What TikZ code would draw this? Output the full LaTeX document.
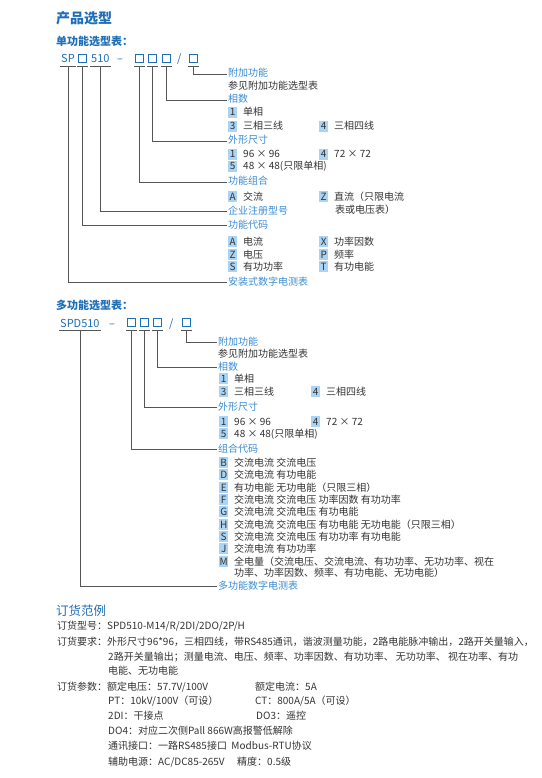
\documentclass[tikz,border=0pt]{standalone}
\usepackage{fontspec}
\setmainfont{Noto Sans CJK SC}
\usetikzlibrary{positioning}
\definecolor{ink}{HTML}{333333}
\definecolor{title}{HTML}{1E6EB8}
\definecolor{label}{HTML}{3A8BD2}
\definecolor{keyfill}{HTML}{A9D4F5}
\definecolor{wire}{HTML}{555555}
\newcommand{\keybox}[1]{{\setlength{\fboxsep}{0pt}\colorbox{keyfill}{\makebox[9pt]{\rule[-2pt]{0pt}{11pt}#1}}}\hspace{6pt}}
\newcommand{\slotbox}{{\setlength{\fboxsep}{0pt}\setlength{\fboxrule}{1.1pt}\raisebox{0.9pt}{\fbox{\rule{0pt}{7.2pt}\hspace{6.8pt}}}}}
\tikzset{
  every node/.style={font=\fontsize{10}{12}\selectfont,text=ink,inner sep=0pt},
  head/.style={anchor=west,text=title,font=\fontsize{14}{16}\selectfont\bfseries},
  subhead/.style={anchor=west,text=title,font=\fontsize{11}{13}\selectfont\bfseries},
  orderhead/.style={anchor=west,text=title,font=\fontsize{12.5}{14}\selectfont},
  part/.style={anchor=base west,text=title,font=\fontsize{11}{13}\selectfont,inner xsep=1pt,inner ysep=2.3pt,text height=8pt,text depth=1pt},
  sep/.style={anchor=base west,text=title,font=\fontsize{11}{13}\selectfont},
  field/.style={anchor=west,text=label,inner xsep=1pt,text height=7.5pt,text depth=1.5pt},
  item/.style={anchor=west,text height=7.5pt,text depth=1.5pt},
  uline/.style={draw=wire,line width=0.9pt},
  link/.style={draw=wire,line width=0.7pt},
}
\begin{document}
\begin{tikzpicture}[x=1pt,y=-1pt]
\useasboundingbox (0,0) rectangle (541,778);

\node[head] (title) at (56,18) {产品选型};
\node[subhead] (single) at (56,41) {单功能选型表：};

% single function code
\node[part] (sp) at (60,63) {SP};
\node[part] (spx) at (77,63) {\slotbox};
\node[part] (s510) at (90,63) {510};
\node[sep] (dash1) at (117,63) {–};
\node[part] (slotA) at (134,63) {\slotbox};
\node[part] (slotB) at (147,63) {\slotbox};
\node[part] (slotC) at (161,63) {\slotbox};
\node[sep] (slash1) at (177,63) {/};
\node[part] (slotD) at (188,63) {\slotbox};

\node[field] (addon1) at (227,74) {附加功能};
\node[item] (addon1t) at (228,87) {参见附加功能选型表};
\node[field] (phase1) at (227,100) {相数};
\node[item] (ph11) at (228,113) {\keybox{1}单相};
\node[item] (ph13) at (228,127) {\keybox{3}三相三线};
\node[item] (ph14) at (319,127) {\keybox{4}三相四线};
\node[field] (size1) at (227,141) {外形尺寸};
\node[item] (sz11) at (228,155) {\keybox{1}96 × 96};
\node[item] (sz14) at (319,155) {\keybox{4}72 × 72};
\node[item] (sz15) at (228,167) {\keybox{5}48 × 48(只限单相)};
\node[field] (combo1) at (227,182) {功能组合};
\node[item] (cbA) at (228,197) {\keybox{A}交流};
\node[item] (cbZ) at (319,197) {\keybox{Z}直流（只限电流};
\node[item] (cbZb) at (335,210) {表或电压表）};
\node[field] (corp1) at (227,211) {企业注册型号};
\node[field] (func1) at (227,225) {功能代码};
\node[item] (fnA) at (228,242) {\keybox{A}电流};
\node[item] (fnX) at (319,242) {\keybox{X}功率因数};
\node[item] (fnZ) at (228,255) {\keybox{Z}电压};
\node[item] (fnP) at (319,255) {\keybox{P}频率};
\node[item] (fnS) at (228,267) {\keybox{S}有功功率};
\node[item] (fnT) at (319,267) {\keybox{T}有功电能};
\node[field] (meter1) at (227,282) {安装式数字电测表};

\draw[uline] (sp.south west) -- (sp.south east);
\draw[uline] (spx.south west) -- (spx.south east);
\draw[uline] (s510.south west) -- (s510.south east);
\draw[uline] (slotA.south west) -- (slotA.south east);
\draw[uline] (slotB.south west) -- (slotB.south east);
\draw[uline] (slotC.south west) -- (slotC.south east);
\draw[uline] (slotD.south west) -- (slotD.south east);

\draw[link] (slotD.south) |- (addon1.west);
\draw[link] (slotC.south) |- (phase1.west);
\draw[link] (slotB.south) |- (size1.west);
\draw[link] (slotA.south) |- (combo1.west);
\draw[link] (s510.south) |- (corp1.west);
\draw[link] (spx.south) |- (func1.west);
\draw[link] (sp.south) |- (meter1.west);

% multi function code
\node[subhead] (multi) at (56,305) {多功能选型表：};
\node[part] (spd) at (59,327) {SPD510};
\node[sep] (dash2) at (109,327) {–};
\node[part] (slotE) at (126,327) {\slotbox};
\node[part] (slotF) at (139,327) {\slotbox};
\node[part] (slotG) at (152,327) {\slotbox};
\node[sep] (slash2) at (169,327) {/};
\node[part] (slotH) at (181,327) {\slotbox};

\node[field] (addon2) at (217,342) {附加功能};
\node[item] (addon2t) at (218,354) {参见附加功能选型表};
\node[field] (phase2) at (217,367) {相数};
\node[item] (ph21) at (219,379) {\keybox{1}单相};
\node[item] (ph23) at (219,392) {\keybox{3}三相三线};
\node[item] (ph24) at (311,392) {\keybox{4}三相四线};
\node[field] (size2) at (217,407) {外形尺寸};
\node[item] (sz21) at (219,422) {\keybox{1}96 × 96};
\node[item] (sz24) at (311,422) {\keybox{4}72 × 72};
\node[item] (sz25) at (219,434) {\keybox{5}48 × 48(只限单相)};
\node[field] (combo2) at (217,449) {组合代码};
\node[item] (cdB) at (219,463) {\keybox{B}交流电流 交流电压};
\node[item] (cdD) at (219,475) {\keybox{D}交流电流 有功电能};
\node[item] (cdE) at (219,488) {\keybox{E}有功电能 无功电能（只限三相）};
\node[item] (cdF) at (219,500) {\keybox{F}交流电流 交流电压 功率因数 有功功率};
\node[item] (cdG) at (219,512) {\keybox{G}交流电流 交流电压 有功电能};
\node[item] (cdH) at (219,525) {\keybox{H}交流电流 交流电压 有功电能 无功电能（只限三相）};
\node[item] (cdS) at (219,537) {\keybox{S}交流电流 交流电压 有功功率 有功电能};
\node[item] (cdJ) at (219,549) {\keybox{J}交流电流 有功功率};
\node[item] (cdM) at (219,562) {\keybox{M}全电量（交流电压、交流电流、有功功率、无功功率、视在};
\node[item] (cdMb) at (234,573) {功率、功率因数、频率、有功电能、无功电能）};
\node[field] (meter2) at (217,586) {多功能数字电测表};

\draw[uline] (spd.south west) -- (spd.south east);
\draw[uline] (slotE.south west) -- (slotE.south east);
\draw[uline] (slotF.south west) -- (slotF.south east);
\draw[uline] (slotG.south west) -- (slotG.south east);
\draw[uline] (slotH.south west) -- (slotH.south east);

\draw[link] (slotH.south) |- (addon2.west);
\draw[link] (slotG.south) |- (phase2.west);
\draw[link] (slotF.south) |- (size2.west);
\draw[link] (slotE.south) |- (combo2.west);
\draw[link] (spd.south) |- (meter2.west);

% order example
\node[orderhead] (order) at (56,611) {订货范例};
\node[item] (model) at (57,626) {订货型号：SPD510-M14/R/2DI/2DO/2P/H};
\node[item] (req) at (57,642) {订货要求：外形尺寸96*96，三相四线，带RS485通讯，谐波测量功能，2路电能脉冲输出，2路开关量输入，};
\node[item] (req2) at (108,657) {2路开关量输出；测量电流、电压、频率、功率因数、有功功率、 无功功率、 视在功率、有功};
\node[item] (req3) at (108,671) {电能、无功电能};
\node[item] (par) at (57,687) {订货参数：额定电压：57.7V/100V};
\node[item] (parI) at (255,687) {额定电流：5A};
\node[item] (parPT) at (108,701) {PT：10kV/100V（可设）};
\node[item] (parCT) at (255,701) {CT：800A/5A（可设）};
\node[item] (parDI) at (108,716) {2DI：干接点};
\node[item] (parDO3) at (256,716) {DO3：遥控};
\node[item] (parDO4) at (108,731) {DO4：对应二次侧Pall 866W高报警低解除};
\node[item] (parCom) at (108,746) {通讯接口：一路RS485接口 \ Modbus-RTU协议};
\node[item] (parPow) at (108,762) {辅助电源：AC/DC85-265V};
\node[item] (parAcc) at (237,762) {精度：0.5级};
\end{tikzpicture}
\end{document}
